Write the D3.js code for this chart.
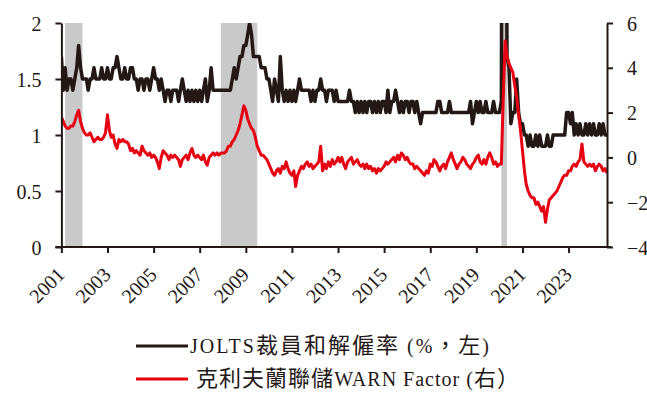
<!DOCTYPE html>
<html>
<head>
<meta charset="utf-8">
<script src="https://cdn.jsdelivr.net/npm/d3@7"></script>
<style>
  body { margin: 0; background: #fff; }
  svg { display: block; }
</style>
</head>
<body>
<svg id="chart" width="647" height="403"></svg>
<script>
// monthly series, starting Jan 2001
var startMonth = "2001-01";

var joltsRate = [
  1.7,1.4,1.6,1.4,1.5,1.5,1.4,1.5,1.6,1.8,1.6,1.5,
  1.5,1.5,1.4,1.5,1.5,1.6,1.5,1.5,1.5,1.6,1.5,1.5,
  1.6,1.5,1.5,1.6,1.6,1.7,1.6,1.5,1.5,1.6,1.5,1.5,
  1.6,1.6,1.5,1.5,1.4,1.5,1.5,1.4,1.5,1.5,1.4,1.5,
  1.6,1.5,1.5,1.4,1.5,1.4,1.3,1.4,1.4,1.3,1.4,1.4,
  1.4,1.3,1.4,1.5,1.4,1.3,1.4,1.3,1.4,1.3,1.4,1.3,
  1.4,1.3,1.4,1.5,1.3,1.4,1.6,1.4,1.4,1.4,1.4,1.4,
  1.4,1.4,1.4,1.4,1.4,1.5,1.6,1.5,1.6,1.7,1.7,1.8,
  1.8,1.9,2.0,1.9,1.7,1.7,1.7,1.7,1.6,1.6,1.6,1.5,
  1.5,1.4,1.3,1.5,1.4,1.3,1.7,1.4,1.3,1.4,1.3,1.4,
  1.3,1.4,1.3,1.4,1.5,1.4,1.4,1.4,1.4,1.4,1.3,1.4,
  1.3,1.4,1.4,1.5,1.4,1.4,1.3,1.4,1.4,1.4,1.3,1.4,
  1.3,1.3,1.3,1.3,1.3,1.3,1.4,1.3,1.3,1.2,1.3,1.2,
  1.3,1.2,1.3,1.2,1.3,1.3,1.2,1.3,1.2,1.3,1.2,1.3,
  1.3,1.2,1.4,1.2,1.3,1.3,1.4,1.3,1.2,1.3,1.2,1.3,
  1.3,1.2,1.3,1.3,1.2,1.3,1.2,1.1,1.2,1.2,1.2,1.2,
  1.2,1.2,1.2,1.2,1.3,1.3,1.2,1.2,1.2,1.2,1.3,1.2,
  1.2,1.2,1.2,1.2,1.2,1.2,1.2,1.2,1.2,1.3,1.1,1.2,
  1.3,1.2,1.3,1.2,1.2,1.3,1.2,1.2,1.2,1.3,1.2,1.2,
  1.2,1.3,7.6,5.9,1.7,1.6,1.1,1.2,1.2,1.5,1.2,1.1,
  1.1,1.0,1.0,0.9,1.0,0.9,0.9,1.0,0.9,1.0,0.9,0.9,
  0.9,1.0,0.9,0.9,1.0,1.0,1.0,1.0,1.0,1.0,1.0,1.2,
  1.2,1.1,1.2,1.0,1.1,1.0,1.1,1.0,1.0,1.1,1.0,1.1,
  1.0,1.1,1.0,1.0,1.1,1.0,1.1,1.0,1.0
];

var warnFactor = [
  1.8,1.6,1.4,1.3,1.3,1.4,1.4,1.6,1.9,2.1,1.6,1.3,
  1.1,1.0,1.0,1.1,0.9,0.7,0.8,0.9,0.8,0.8,0.9,1.1,
  1.9,1.2,0.9,1.0,0.6,0.4,0.8,0.7,0.8,0.7,0.7,0.6,
  0.3,0.4,0.2,0.3,0.2,0.1,0.5,0.3,0.2,0.1,0.2,0.0,
  0.1,0.0,-0.2,-0.5,0.0,0.3,0.2,0.1,-0.1,0.1,0.0,0.1,
  0.0,-0.1,-0.4,-0.1,0.0,0.1,-0.1,0.2,0.4,0.1,0.0,0.1,
  0.0,-0.1,0.1,-0.2,-0.35,0.0,0.1,0.2,0.1,0.2,0.1,0.2,
  0.2,0.2,0.3,0.5,0.5,0.7,0.8,1.0,1.2,1.5,1.9,2.3,
  2.1,1.7,1.5,1.3,1.2,0.9,0.5,0.3,0.1,0.1,0.0,-0.1,
  -0.3,-0.5,-0.7,-0.8,-0.6,-0.5,-0.7,-0.4,-0.5,-0.2,-0.5,-0.7,
  -0.8,-0.6,-1.3,-0.8,-0.6,-0.4,-0.5,-0.3,-0.2,-0.4,-0.3,-0.5,
  -0.4,-0.3,-0.2,0.5,-0.6,-0.3,-0.5,-0.2,-0.4,-0.1,-0.3,-0.2,
  0.0,-0.2,0.0,-0.3,-0.5,-0.2,-0.1,0.0,-0.3,-0.2,-0.1,-0.3,
  -0.4,-0.3,-0.5,-0.3,-0.5,-0.4,-0.6,-0.5,-0.7,-0.5,-0.6,-0.5,
  -0.4,-0.2,-0.3,-0.2,-0.1,0.0,-0.2,0.1,-0.1,0.2,0.1,-0.1,
  0.0,-0.2,-0.3,-0.3,-0.5,-0.4,-0.5,-0.6,-0.7,-0.8,-0.6,-0.7,
  -0.3,-0.4,-0.1,-0.2,-0.4,-0.6,-0.4,-0.3,-0.5,-0.2,0.0,0.2,
  -0.1,-0.3,-0.5,-0.3,-0.2,0.0,-0.1,-0.3,-0.4,-0.5,-0.3,-0.2,
  0.0,0.1,-0.2,-0.3,-0.1,-0.3,0.0,0.2,0.0,-0.3,-0.2,-0.4,
  -0.3,-0.3,2.5,5.2,4.5,4.2,4.0,3.8,3.2,2.7,1.9,1.2,
  0.3,-0.6,-1.2,-1.5,-1.7,-1.8,-1.8,-2.1,-2.0,-2.2,-2.4,-2.2,
  -2.9,-2.3,-1.9,-1.8,-1.7,-1.6,-1.5,-1.3,-1.1,-0.9,-0.8,-0.8,
  -0.6,-0.6,-0.4,-0.3,-0.4,-0.2,-0.1,0.6,-0.2,-0.3,-0.4,-0.3,
  -0.4,-0.3,-0.6,-0.4,-0.3,-0.4,-0.6,-0.5,-0.7
];

// recession shading (start, end month)
var recStart = ["2001-03", "2007-12", "2020-02"];
var recEnd   = ["2001-12", "2009-07", "2020-05"];

var xTickYears = [2001,2003,2005,2007,2009,2011,2013,2015,2017,2019,2021,2023];
var leftTicks  = [0, 0.5, 1, 1.5, 2];
var rightTicks = [-4, -2, 0, 2, 4, 6];

// legend labels split into latin / cjk runs
var legendParts = [
  [["JOLTS", 0], ["裁員和解僱率", 1], [" (%", 0], ["，左", 1], [")", 0]],
  [["克利夫蘭聯儲", 1], ["WARN Factor (", 0], ["右）", 1]]
];

var colBlack = "#231815", colRed = "#e60012", colShade = "#c9c9c9";
var serif = "'Liberation Serif','Times New Roman',serif";
var cjk = "'Noto Sans CJK TC','Noto Sans CJK SC',sans-serif";

var svg = d3.select("#chart");
var pLeft = 61.4, pRight = 607, pTop = 23, pBottom = 247;

var parseM = d3.timeParse("%Y-%m");
var t0 = parseM(startMonth);
var dates = joltsRate.map(function(d, i) { return d3.timeMonth.offset(t0, i); });

var x = d3.scaleTime()
    .domain([t0, dates[dates.length - 1]])
    .range([pLeft, pRight]);
var yL = d3.scaleLinear().domain([0, 2]).range([pBottom, pTop]);
var yR = d3.scaleLinear().domain([-4, 6]).range([pBottom, pTop]);

svg.append("clipPath").attr("id", "plotclip")
  .append("rect")
    .attr("x", pLeft).attr("y", pTop)
    .attr("width", pRight - pLeft).attr("height", pBottom - pTop);

// recessions
svg.selectAll("rect.rec")
  .data(recStart.map(function(s, i) { return [parseM(s), parseM(recEnd[i])]; }))
  .enter().append("rect")
    .attr("class", "rec")
    .attr("x", function(d) { return x(d[0]); })
    .attr("width", function(d) { return x(d[1]) - x(d[0]); })
    .attr("y", pTop)
    .attr("height", pBottom - pTop)
    .attr("fill", colShade);

var lineL = d3.line()
    .x(function(d, i) { return x(dates[i]); })
    .y(function(d) { return yL(d); });
var lineR = d3.line()
    .x(function(d, i) { return x(dates[i]); })
    .y(function(d) { return yR(d); });

var plot = svg.append("g").attr("clip-path", "url(#plotclip)");
plot.append("path")
    .attr("d", lineL(joltsRate))
    .attr("fill", "none")
    .attr("stroke", colBlack)
    .attr("stroke-width", 3.5)
    .attr("stroke-linejoin", "round");
plot.append("path")
    .attr("d", lineR(warnFactor))
    .attr("fill", "none")
    .attr("stroke", colRed)
    .attr("stroke-width", 3)
    .attr("stroke-linejoin", "round");

// axes
function styleAxis(g) {
  g.select(".domain").attr("stroke", colBlack).attr("stroke-width", 2);
  g.selectAll(".tick line").attr("stroke", colBlack).attr("stroke-width", 2);
  g.selectAll(".tick text")
    .attr("fill", colBlack)
    .attr("font-family", serif)
    .attr("font-size", "20px");
}

var gLeft = svg.append("g")
    .attr("transform", "translate(" + pLeft + ",0)")
    .call(d3.axisLeft(yL).tickValues(leftTicks).tickSize(6).tickSizeOuter(0)
          .tickPadding(14).tickFormat(d3.format("")));
styleAxis(gLeft);
gLeft.selectAll(".tick text").attr("dy", "0.35em");

var gRight = svg.append("g")
    .attr("transform", "translate(" + pRight + ",0)")
    .call(d3.axisRight(yR).tickValues(rightTicks).tickSize(6).tickSizeOuter(0)
          .tickPadding(14).tickFormat(d3.format("")));
styleAxis(gRight);
gRight.selectAll(".tick text").attr("dy", "0.35em");

var gBottom = svg.append("g")
    .attr("transform", "translate(0," + pBottom + ")")
    .call(d3.axisBottom(x)
          .tickValues(xTickYears.map(function(y) { return new Date(y, 0, 1); }))
          .tickSize(6).tickSizeOuter(0)
          .tickFormat(d3.timeFormat("%Y")));
styleAxis(gBottom);
gBottom.select(".domain").attr("d", "M" + (pLeft - 6) + ",0H" + (pRight + 4));
gBottom.selectAll(".tick text")
    .attr("text-anchor", "end")
    .attr("x", 0)
    .attr("y", 0)
    .attr("dy", "0")
    .attr("font-size", "20px")
    .attr("transform", "translate(4,29) rotate(-45)");

// legend
var legColors = [colBlack, colRed];
var legTextX = [54, 60];
var legLen = [299, 323];
var leg = svg.selectAll("g.leg")
  .data(legendParts)
  .enter().append("g")
    .attr("class", "leg")
    .attr("transform", function(d, i) { return "translate(136," + (346 + i * 33) + ")"; });
leg.append("line")
    .attr("x1", 0).attr("x2", 52)
    .attr("y1", 0).attr("y2", 0)
    .attr("stroke", function(d, i) { return legColors[i]; })
    .attr("stroke-width", 3);
var legText = leg.append("text")
    .attr("x", function(d, i) { return legTextX[i]; })
    .attr("y", 7)
    .attr("fill", colBlack)
    .attr("textLength", function(d, i) { return legLen[i]; })
    .attr("lengthAdjust", "spacing");
legText.selectAll("tspan")
  .data(function(d) { return d; })
  .enter().append("tspan")
    .attr("font-family", function(p) { return p[1] ? cjk : serif; })
    .attr("font-size", function(p) { return p[1] ? "22px" : "20px"; })
    .text(function(p) { return p[0]; });
</script>
</body>
</html>
